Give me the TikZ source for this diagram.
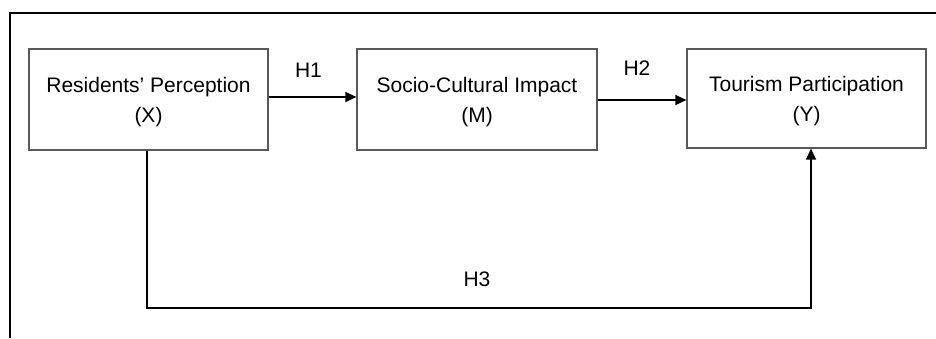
\documentclass[tikz,border=0pt]{standalone}
\usepackage{fontspec}
\setmainfont{Liberation Sans}
\usetikzlibrary{arrows.meta}
\newcommand{\tallstrut}{\rule{0pt}{21pt}}
\begin{document}
\begin{tikzpicture}[x=1pt,y=-1pt,
  frame/.style={line width=2.2pt,black},
  var/.style={draw=black!65,line width=1.2pt,minimum width=239pt,minimum height=101pt,
    align=center,inner sep=0pt,font=\fontsize{21pt}{30pt}\selectfont},
  arr/.style={line width=1.4pt,black,-{Triangle[length=11pt,width=10pt]}},
  lab/.style={font=\fontsize{21pt}{24pt}\selectfont,inner sep=0pt}]
\useasboundingbox (0,0) rectangle (936,338);
\draw[frame] (10,338) -- (10,13) -- (936,13);
\node[var] (X) at (148.5,99.5) {\tallstrut Residents’ Perception\\(X)};
\node[var,minimum width=240pt] (M) at (477,99.5) {\tallstrut Socio-Cultural Impact\\(M)};
\node[var,minimum height=99pt] (Y) at (806.5,98.5) {\tallstrut Tourism Participation\\(Y)};
\coordinate (h1) at (0,97);
\coordinate (h2) at (0,100);
\coordinate (b) at (147,308);
\coordinate (c) at (811,308);
\draw[arr] (X.east |- h1) -- (M.west |- h1);
\draw[arr] (M.east |- h2) -- (Y.west |- h2);
\draw[arr] (X.south -| b) -- (b) -- (c) -- (Y.south -| c);
\node[lab] (l1) at (308.5,70.5) {H1};
\node[lab] (l2) at (637,68.5) {H2};
\node[lab] (l3) at (477,279.5) {H3};
\end{tikzpicture}
\end{document}
